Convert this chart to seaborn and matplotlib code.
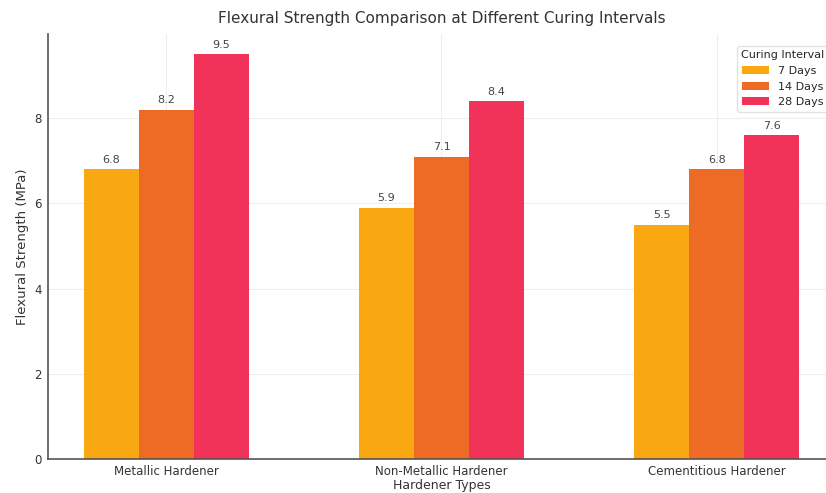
import matplotlib
matplotlib.use("Agg")
import matplotlib.pyplot as plt
import seaborn as sns
import pandas as pd

hardeners = ["Metallic Hardener", "Non-Metallic Hardener", "Cementitious Hardener"]
intervals = ["7 Days", "14 Days", "28 Days"]
strength_7 = [6.8, 5.9, 5.5]
strength_14 = [8.2, 7.1, 6.8]
strength_28 = [9.5, 8.4, 7.6]
colors = ["#FAA812", "#EE6B25", "#F13259"]

rows = []
for label, vals in zip(intervals, [strength_7, strength_14, strength_28]):
    for h, v in zip(hardeners, vals):
        rows.append({"Hardener": h, "Curing Interval": label, "Strength": v})
df = pd.DataFrame(rows)

sns.set_theme(style="whitegrid")
plt.rcParams["font.family"] = ["DejaVu Sans"]

fig = plt.figure(figsize=(8.26, 4.93), dpi=100)
ax = fig.add_axes([0.058, 0.069, 0.953, 0.862])

sns.barplot(data=df, x="Hardener", y="Strength", hue="Curing Interval",
            hue_order=intervals, order=hardeners, palette=colors,
            width=0.6, saturation=1, errorbar=None, linewidth=0, ax=ax)

for cont in ax.containers:
    ax.bar_label(cont, fmt="%.1f", padding=3, fontsize=8, color="#444444")

ax.set_xlim(-0.43, 2.43)
ax.set_ylim(0, 9.975)
ax.set_yticks([0, 2, 4, 6, 8])
ax.grid(True, color="#eeeeee", linewidth=0.8)
ax.set_axisbelow(True)

for side in ["top", "right"]:
    ax.spines[side].set_visible(False)
for side in ["left", "bottom"]:
    ax.spines[side].set_visible(True)
    ax.spines[side].set_color("#555555")
    ax.spines[side].set_linewidth(1.2)

ax.tick_params(axis="both", labelsize=8.5, colors="#333333", length=3, pad=1.5)
ax.set_xlabel("Hardener Types", fontsize=9, color="#333333", labelpad=0.5)
ax.set_ylabel("Flexural Strength (MPa)", fontsize=9.5, color="#333333")
ax.set_title("Flexural Strength Comparison at Different Curing Intervals",
             fontsize=11, color="#333333", pad=8)

leg = ax.legend(title="Curing Interval", loc="upper right", fontsize=8,
                title_fontsize=8, frameon=True, handlelength=2.4,
                bbox_to_anchor=(0.999, 0.985))
leg.get_frame().set_edgecolor("#dddddd")

fig.savefig("out.png", dpi=100)
